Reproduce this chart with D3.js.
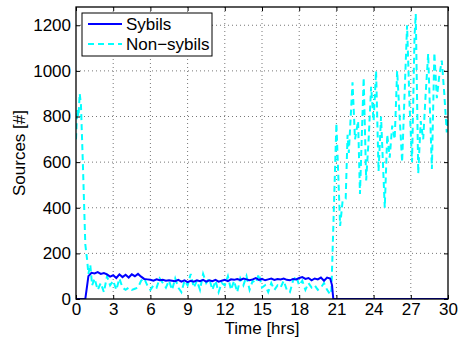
<!DOCTYPE html>
<html><head><meta charset="utf-8">
<script src="https://cdn.jsdelivr.net/npm/d3@7"></script>
<style>body{margin:0;background:#fff}svg{display:block;font-family:"Liberation Sans",Arial,Helvetica,sans-serif}</style>
</head><body><svg id="c" width="461" height="339"></svg>
<script>
const xTicks = [0,3,6,9,12,15,18,21,24,27,30];
const yTicks = [0,200,400,600,800,1000,1200];
const seriesNames = ["Sybils","Non\u2212sybils"];

const sybilHours = [0,0.5,0.75,0.9,1.0,1.25,1.5,1.75,2.0,2.25,2.5,2.75,3.0,3.25,3.5,3.75,4.0,4.25,4.5,4.75,5.0,5.25,5.5,5.75,6.0,6.25,6.5,6.75,7.0,7.25,7.5,7.75,8.0,8.25,8.5,8.75,9.0,9.25,9.5,9.75,10.0,10.25,10.5,10.75,11.0,11.25,11.5,11.75,12.0,12.25,12.5,12.75,13.0,13.25,13.5,13.75,14.0,14.25,14.5,14.75,15.0,15.25,15.5,15.75,16.0,16.25,16.5,16.75,17.0,17.25,17.5,17.75,18.0,18.25,18.5,18.75,19.0,19.25,19.5,19.75,20.0,20.25,20.5,20.65,20.75,30];
const sybilSources = [0,0,0,60,100,115,112,118,110,114,108,98,104,92,108,96,106,94,108,100,110,98,88,86,84,80,86,82,84,80,82,80,78,84,76,82,74,80,76,82,78,84,76,82,78,84,76,80,84,78,86,84,88,84,90,86,82,86,92,84,88,82,86,90,84,88,86,90,84,82,88,86,92,96,88,92,82,90,86,94,80,94,90,60,0,0];

const nonSybilHours = [0,0.1,0.2,0.3,0.4,0.55,0.75,0.9,1.0,1.15,1.3,1.5,1.75,2.0,2.25,2.5,2.75,3.0,3.25,3.5,3.75,4.0,4.25,4.5,4.75,5.0,5.25,5.5,5.75,6.0,6.25,6.5,6.75,7.0,7.25,7.5,7.75,8.0,8.25,8.5,8.75,9.0,9.25,9.5,9.75,10.0,10.25,10.5,10.75,11.0,11.25,11.5,11.75,12.0,12.25,12.5,12.75,13.0,13.25,13.5,13.75,14.0,14.25,14.5,14.75,15.0,15.25,15.5,15.75,16.0,16.25,16.5,16.75,17.0,17.25,17.5,17.75,18.0,18.25,18.5,18.75,19.0,19.25,19.5,19.75,20.0,20.25,20.5,20.6,21.0,21.3,21.5,21.75,21.9,22.0,22.3,22.5,22.75,22.9,23.2,23.4,23.6,23.8,24.0,24.2,24.4,24.6,24.9,25.1,25.3,25.5,25.7,25.9,26.1,26.3,26.5,26.7,26.9,27.1,27.3,27.4,27.6,27.8,28.0,28.2,28.4,28.55,28.7,28.9,29.1,29.3,29.5,29.7,29.9,30];
const nonSybilSources = [700,830,800,900,850,600,240,170,110,150,60,90,40,70,30,100,60,80,40,90,50,40,50,40,45,50,80,90,60,40,60,50,90,70,50,80,40,90,50,30,80,60,110,50,80,40,110,70,90,40,80,30,70,60,100,40,80,30,90,60,100,40,80,70,110,50,60,30,70,40,60,50,80,40,30,80,100,60,80,40,70,50,60,40,50,70,40,20,40,770,320,430,440,720,640,950,700,780,460,970,520,700,930,780,1000,560,800,400,720,620,760,700,1000,800,600,900,1200,850,600,1150,1250,550,780,700,900,1075,820,570,1080,880,980,1045,900,730,800];

const svg = d3.select("#c");
const L = 76, R = 448, T = 7, B = 299;
const x = d3.scaleLinear().domain([0,30]).range([L,R]);
const y = d3.scaleLinear().domain([0,1280]).range([B,T]);

// grid
const g = svg.append("g");
g.selectAll(".gx").data(xTicks.slice(1,-1)).join("line")
  .attr("x1",d=>x(d)).attr("x2",d=>x(d)).attr("y1",T).attr("y2",B)
  .attr("stroke","#777").attr("stroke-width",1).attr("stroke-dasharray","1,3");
g.selectAll(".gy").data(yTicks.slice(1)).join("line")
  .attr("y1",d=>y(d)).attr("y2",d=>y(d)).attr("x1",L).attr("x2",R)
  .attr("stroke","#777").attr("stroke-width",1).attr("stroke-dasharray","1,3");

svg.append("clipPath").attr("id","pc").append("rect")
  .attr("x",L).attr("y",T).attr("width",R-L).attr("height",B-T);

const line = d3.line().x(d=>x(d[0])).y(d=>y(d[1]));
const plot = svg.append("g").attr("clip-path","url(#pc)");
plot.append("path").datum(nonSybilHours.map((h,i)=>[h,nonSybilSources[i]]))
  .attr("d",line).attr("fill","none").attr("stroke","#00FFFF").attr("stroke-width",2)
  .attr("stroke-dasharray","6,4");
plot.append("path").datum(sybilHours.map((h,i)=>[h,sybilSources[i]]))
  .attr("d",line).attr("fill","none").attr("stroke","#0000FF").attr("stroke-width",2);

// axes (MATLAB style: ticks inward on all sides)
const fs = "17px";
const fmt = d3.format("d");
const ax = svg.append("g").attr("transform",`translate(0,${B})`)
  .call(d3.axisBottom(x).tickValues(xTicks).tickSizeInner(-4).tickSizeOuter(0).tickPadding(4).tickFormat(fmt));
const axT = svg.append("g").attr("transform",`translate(0,${T})`)
  .call(d3.axisTop(x).tickValues(xTicks).tickSizeInner(-4).tickSizeOuter(0).tickFormat(""));
const ay = svg.append("g").attr("transform",`translate(${L},0)`)
  .call(d3.axisLeft(y).tickValues(yTicks).tickSizeInner(-4).tickSizeOuter(0).tickPadding(5).tickFormat(fmt));
const ayR = svg.append("g").attr("transform",`translate(${R},0)`)
  .call(d3.axisRight(y).tickValues(yTicks).tickSizeInner(-4).tickSizeOuter(0).tickFormat(""));
[ax,axT,ay,ayR].forEach(a=>{
  a.select(".domain").remove();
  a.selectAll("line").attr("stroke","#000");
  a.selectAll("text").attr("font-size",fs).attr("font-family","Liberation Sans, Arial, sans-serif").attr("fill","#000");
});
svg.append("rect").attr("x",L).attr("y",T).attr("width",R-L).attr("height",B-T)
  .attr("fill","none").attr("stroke","#000").attr("stroke-width",1.3);

svg.append("text").attr("x",(L+R)/2).attr("y",334).attr("text-anchor","middle")
  .attr("font-size",fs).text("Time [hrs]");
svg.append("text").attr("transform",`translate(25,${(T+B)/2}) rotate(-90)`).attr("text-anchor","middle")
  .attr("font-size",fs).text("Sources [#]");

// legend
const lg = svg.append("g");
lg.append("rect").attr("x",82).attr("y",13).attr("width",130).attr("height",43)
  .attr("fill","#fff").attr("stroke","#000").attr("stroke-width",1);
const colors = ["#0000FF","#00FFFF"], dashes = [null,"6,4"];
seriesNames.forEach((n,i)=>{
  const yy = 24 + i*20;
  lg.append("line").attr("x1",88).attr("x2",122).attr("y1",yy).attr("y2",yy)
    .attr("stroke",colors[i]).attr("stroke-width",2).attr("stroke-dasharray",dashes[i]);
  lg.append("text").attr("x",126).attr("y",yy+6).attr("font-size",fs).text(n);
});
</script></body></html>
